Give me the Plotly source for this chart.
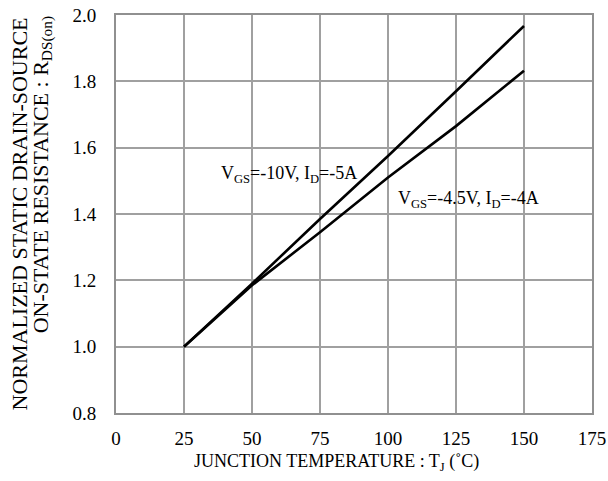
import plotly.graph_objects as go

temp = [25, 50, 75, 100, 125, 150]
r_10v = [1.0, 1.19, 1.385, 1.575, 1.77, 1.967]
r_45v = [1.0, 1.185, 1.345, 1.51, 1.665, 1.832]

x_ticks = [0, 25, 50, 75, 100, 125, 150, 175]
y_ticks = [0.8, 1.0, 1.2, 1.4, 1.6, 1.8, 2.0]

FONT = "Liberation Serif, Times New Roman, serif"

fig = go.Figure()
fig.add_trace(go.Scatter(x=temp, y=r_10v, mode="lines",
                         line=dict(color="black", width=2.6), showlegend=False))
fig.add_trace(go.Scatter(x=temp, y=r_45v, mode="lines",
                         line=dict(color="black", width=2.6), showlegend=False))

fig.add_annotation(x=38.0, y=1.52, xref="x", yref="y", xanchor="left", yanchor="middle",
                   text="V<sub>GS</sub>=-10V, I<sub>D</sub>=-5A", showarrow=False,
                   font=dict(family=FONT, size=18, color="black"))
fig.add_annotation(x=103, y=1.445, xref="x", yref="y", xanchor="left", yanchor="middle",
                   text="V<sub>GS</sub>=-4.5V, I<sub>D</sub>=-4A", showarrow=False,
                   font=dict(family=FONT, size=18, color="black"))

# axis titles
fig.add_annotation(x=0.16, y=-0.125, xref="paper", yref="paper", xanchor="left", yanchor="middle",
                   text="JUNCTION TEMPERATURE : T<sub>J</sub> (˚C)", showarrow=False,
                   font=dict(family=FONT, size=18, color="black"))
fig.add_annotation(x=-0.2017, y=1.0, xref="paper", yref="paper", xanchor="center", yanchor="top",
                   textangle=-90, text="NORMALIZED STATIC DRAIN-SOURCE", showarrow=False,
                   font=dict(family=FONT, size=22, color="black"))
fig.add_annotation(x=-0.1555, y=1.003, xref="paper", yref="paper", xanchor="center", yanchor="top",
                   textangle=-90, text="ON-STATE RESISTANCE : R<sub>DS(on)</sub>", showarrow=False,
                   font=dict(family=FONT, size=22, color="black"))

axis_common = dict(showgrid=True, gridcolor="#a0a0a0", gridwidth=1.5,
                   showline=True, linecolor="#909090", linewidth=2, mirror=True,
                   zeroline=False, ticks="", tickfont=dict(family=FONT, size=19, color="black"))

fig.update_xaxes(range=[0, 175], tickvals=x_ticks, ticktext=[str(v) for v in x_ticks],
                 ticklabelstandoff=7, **axis_common)
fig.update_yaxes(range=[0.8, 2.0], tickvals=y_ticks, ticktext=[f"{v:.1f}" for v in y_ticks],
                 ticklabelstandoff=14, **axis_common)

fig.update_layout(width=608, height=481, margin=dict(l=116, r=16, t=15, b=68, autoexpand=False),
                  plot_bgcolor="white", paper_bgcolor="white")

fig.write_html("out.html")
